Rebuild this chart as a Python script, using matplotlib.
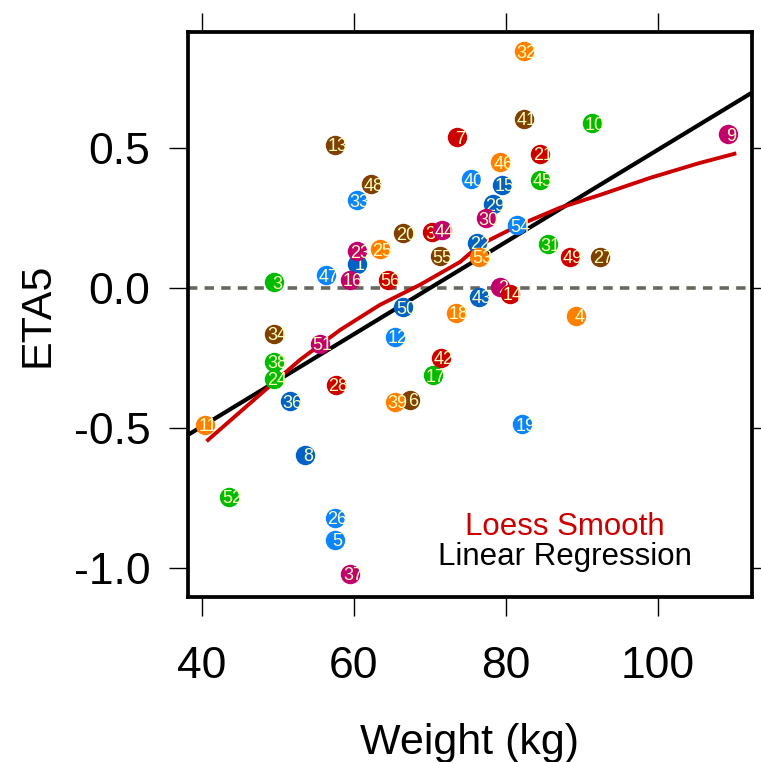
import numpy as np
import matplotlib
matplotlib.use("Agg")
import matplotlib.pyplot as plt

plt.rcParams['font.family'] = ['Liberation Sans', 'DejaVu Sans']

# subject data: id, weight (kg), ETA5
ids = list(range(1, 57))
weight = [60.4, 79.3, 49.5, 89.3, 57.5, 67.4, 73.6, 53.6, 109.3, 91.3,
          40.4, 65.4, 57.5, 80.5, 79.5, 59.5, 70.4, 73.4, 82.2, 66.5,
          84.5, 76.2, 60.4, 49.5, 63.4, 57.5, 92.4, 57.6, 78.3, 77.4,
          85.5, 82.4, 60.4, 49.5, 70.3, 51.6, 59.5, 49.5, 65.4, 75.4,
          82.4, 71.5, 76.5, 71.6, 84.5, 79.3, 56.3, 62.2, 88.4, 66.5,
          55.5, 43.6, 76.5, 81.5, 71.3, 64.5]
eta5 = [0.086, 0.004, 0.021, -0.100, -0.900, -0.400, 0.539, -0.596, 0.550, 0.589,
        -0.489, -0.175, 0.511, -0.021, 0.368, 0.029, -0.311, -0.089, -0.486, 0.196,
        0.479, 0.161, 0.132, -0.325, 0.139, -0.821, 0.111, -0.346, 0.300, 0.250,
        0.157, 0.846, 0.314, -0.164, 0.200, -0.404, -1.021, -0.264, -0.407, 0.389,
        0.604, -0.250, -0.032, 0.207, 0.386, 0.450, 0.046, 0.371, 0.111, -0.068,
        -0.200, -0.746, 0.111, 0.225, 0.114, 0.029]

# loess smooth
loess_x = [40.8, 47.6, 52.9, 58.2, 63.4, 68.7, 74.0, 76.6, 81.8, 87.1, 92.4, 99.0, 105.5, 110.1]
loess_y = [-0.543, -0.382, -0.257, -0.150, -0.061, 0.011, 0.093, 0.154, 0.225, 0.286, 0.332, 0.393, 0.446, 0.479]

# linear regression
reg_slope = 0.01646
reg_intercept = -1.153

palette = ['#CC0000', '#0062C4', '#C2006C', '#00BB00', '#FF7F00', '#0A84FF', '#7F4000']

fig = plt.figure(figsize=(7.61, 7.62), dpi=100)
ax = fig.add_axes([0.247, 0.2165, 0.741, 0.7415])

ax.axhline(0, color='#68685f', lw=2.6, ls=(0, (2.6, 2.0)), zorder=1)

xl = np.array([30, 120])
ax.plot(xl, reg_intercept + reg_slope * xl, color='black', lw=3.0, zorder=2)
ax.plot(loess_x, loess_y, color='#CC0000', lw=2.8, zorder=2)

for k, (i, x, y) in enumerate(zip(ids, weight, eta5)):
    ax.plot(x, y, 'o', ms=14, color=palette[i % 7], mec='none', zorder=3 + 2 * k)
    ax.annotate(str(i), (x, y), xytext=(2, -1.5), textcoords='offset points',
                ha='center', va='center', fontsize=13, color='#FFFFBF', zorder=4 + 2 * k)

ax.set_xlim(38.16, 112.4)
ax.set_ylim(-1.104, 0.914)
ax.set_xticks([40, 60, 80, 100])
ax.set_yticks([-1.0, -0.5, 0.0, 0.5])
ax.set_yticklabels(['-1.0', '-0.5', '0.0', '0.5'])
ax.tick_params(direction='out', length=14, width=1, labelsize=32, pad=13,
               top=True, right=True)
ax.tick_params(axis='x', pad=21)
for s in ax.spines.values():
    s.set_linewidth(2.7)

ax.set_xlabel('Weight (kg)', fontsize=31, labelpad=26)
ax.set_ylabel('ETA5', fontsize=31, labelpad=12)

ax.text(0.668, 0.124, 'Loess Smooth', transform=ax.transAxes, ha='center', va='center',
        fontsize=22.5, color='#CC0000')
ax.text(0.668, 0.071, 'Linear Regression', transform=ax.transAxes, ha='center', va='center',
        fontsize=22.5, color='black')

fig.savefig('out.png', dpi=100)
